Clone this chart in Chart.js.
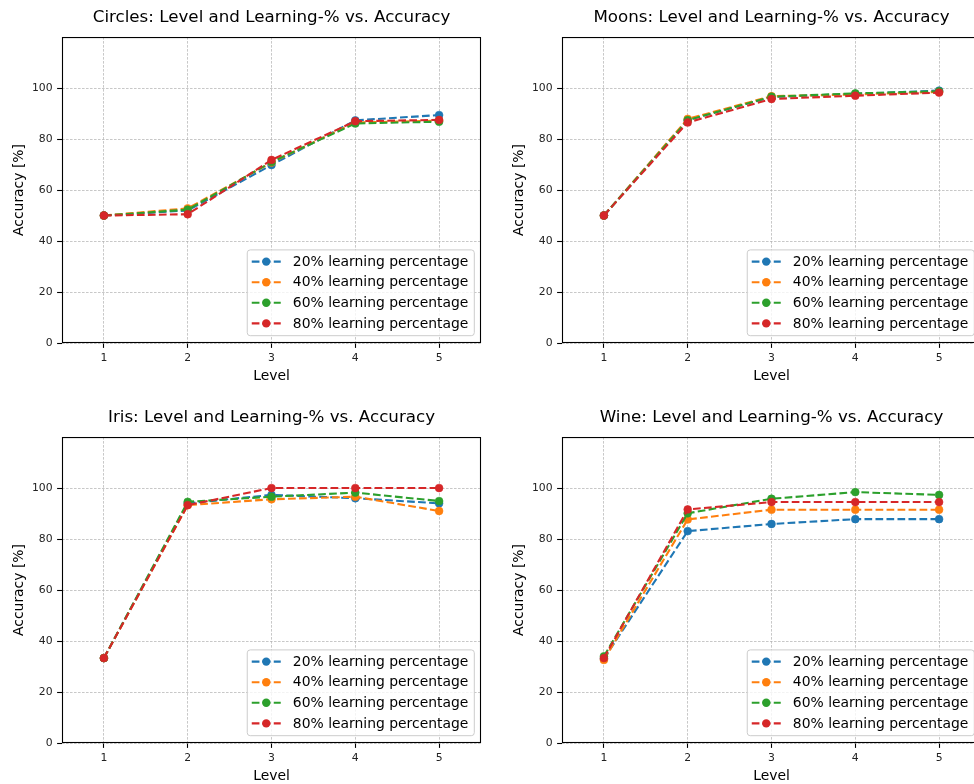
<!DOCTYPE html>
<html>
<head>
<meta charset="utf-8">
<title>Level and Learning-% vs. Accuracy</title>
<script src="https://cdn.jsdelivr.net/npm/chart.js@4.4.1/dist/chart.umd.min.js"></script>
<style>
    html, body { margin: 0; padding: 0; background: #fff; overflow: hidden; width: 974px; height: 784px; }
    canvas { position: absolute; }
</style>
</head>
<body>
<canvas id="circles" width="487" height="392" style="left:0;top:0"></canvas>
<canvas id="moons" width="487" height="392" style="left:500px;top:0"></canvas>
<canvas id="iris" width="487" height="392" style="left:0;top:400px"></canvas>
<canvas id="wine" width="487" height="392" style="left:500px;top:400px"></canvas>
<script>
// chart values
const levels = [1, 2, 3, 4, 5];
const yTicks = [0, 20, 40, 60, 80, 100];
const seriesLabels = ['20% learning percentage', '40% learning percentage', '60% learning percentage', '80% learning percentage'];
const seriesColors = ['#1f77b4', '#ff7f0e', '#2ca02c', '#d62728'];

const circles20 = [50, 52.0, 69.8, 87.3, 89.4];
const circles40 = [50, 52.8, 70.8, 86.5, 87.2];
const circles60 = [50, 52.3, 71.0, 86.1, 86.8];
const circles80 = [50, 50.5, 71.8, 87.0, 87.5];

const moons20 = [50, 87.5, 96.5, 97.7, 99.0];
const moons40 = [50, 87.9, 96.8, 97.5, 98.5];
const moons60 = [50, 87.4, 96.6, 97.9, 98.7];
const moons80 = [50, 86.5, 95.7, 97.0, 98.2];

const iris20 = [33.3, 94.0, 97.3, 96.0, 94.0];
const iris40 = [33.3, 93.3, 95.6, 96.6, 91.0];
const iris60 = [33.3, 94.6, 96.6, 98.2, 94.9];
const iris80 = [33.3, 93.3, 100, 100, 100];

const wine20 = [33.0, 83.1, 85.9, 87.8, 87.8];
const wine40 = [32.6, 87.7, 91.5, 91.5, 91.5];
const wine60 = [34.0, 90.1, 95.8, 98.4, 97.3];
const wine80 = [33.3, 91.6, 94.5, 94.5, 94.5];

const FONT = 'DejaVu Sans';
const LEGEND_SIZE = 13.9;

Chart.defaults.font.family = FONT;
Chart.defaults.color = '#000';

// frame around the plot area, like the matplotlib axes box
const framePlugin = {
    id: 'frame',
    afterDraw(chart) {
        const a = chart.chartArea;
        const ctx = chart.ctx;
        ctx.save();
        ctx.strokeStyle = '#000';
        ctx.lineWidth = 1.1;
        ctx.strokeRect(a.left + 0.5, a.top + 0.5, a.right - a.left - 1, a.bottom - a.top - 1);
        ctx.restore();
    }
};

// legend inside the plot, bottom right
const innerLegendPlugin = {
    id: 'innerLegend',
    afterDatasetsDraw(chart) {
        const a = chart.chartArea;
        const ctx = chart.ctx;
        const sets = chart.data.datasets;
        ctx.save();
        ctx.font = LEGEND_SIZE + 'px "' + FONT + '"';
        let textW = 0;
        sets.forEach(ds => { textW = Math.max(textW, ctx.measureText(ds.label).width); });
        const rowH = 20.6;
        const boxW = 45.6 + textW + 6;
        const boxH = 11.7 + rowH * (sets.length - 1) + 12.3;
        const x0 = a.right - 6.7 - boxW;
        const y0 = a.bottom - 7.3 - boxH;

        ctx.beginPath();
        ctx.roundRect(x0, y0, boxW, boxH, 3);
        ctx.fillStyle = 'rgba(255,255,255,0.8)';
        ctx.fill();
        ctx.strokeStyle = '#cccccc';
        ctx.lineWidth = 1;
        ctx.stroke();

        sets.forEach((ds, i) => {
            const cy = y0 + 11.7 + i * rowH;
            ctx.strokeStyle = ds.borderColor;
            ctx.lineWidth = 2.1;
            ctx.setLineDash([7.7, 3.3]);
            ctx.beginPath();
            ctx.moveTo(x0 + 4.5, cy);
            ctx.lineTo(x0 + 33.5, cy);
            ctx.stroke();
            ctx.setLineDash([]);
            ctx.fillStyle = ds.borderColor;
            ctx.beginPath();
            ctx.arc(x0 + 19, cy, 4.2, 0, Math.PI * 2);
            ctx.fill();
            ctx.fillStyle = '#000';
            ctx.textBaseline = 'middle';
            ctx.fillText(ds.label, x0 + 45.6, cy + 0.5);
        });
        ctx.restore();
    }
};

function makeDatasets(seriesList) {
    return seriesList.map((vals, i) => ({
        label: seriesLabels[i],
        data: levels.map((lv, j) => ({ x: lv, y: vals[j] })),
        borderColor: seriesColors[i],
        backgroundColor: seriesColors[i],
        borderWidth: 2.1,
        borderDash: [7.7, 3.3],
        pointRadius: 3.9,
        pointBorderWidth: 0.6,
        pointBackgroundColor: seriesColors[i],
        pointBorderColor: seriesColors[i],
        tension: 0,
        fill: false,
        order: seriesList.length - i
    }));
}

function gridOpts() {
    return {
        color: '#b0b0b0',
        lineWidth: 0.7,
        drawTicks: true,
        tickLength: 4.9,
        tickColor: '#000',
        tickWidth: 1.1,
        tickBorderDash: []
    };
}

function drawPanel(canvasId, title, seriesList) {
    const ctx = document.getElementById(canvasId).getContext('2d');
    return new Chart(ctx, {
        type: 'line',
        data: { datasets: makeDatasets(seriesList) },
        plugins: [framePlugin, innerLegendPlugin],
        options: {
            responsive: false,
            animation: false,
            devicePixelRatio: 1,
            layout: { padding: { left: 0, right: 6, top: 0, bottom: 0 } },
            plugins: {
                legend: { display: false },
                tooltip: { enabled: false },
                title: {
                    display: true,
                    text: title,
                    fullSize: false,
                    color: '#000',
                    font: { family: FONT, size: 16.7, weight: 'normal', lineHeight: 1.2 },
                    padding: { top: 8, bottom: 9 }
                }
            },
            scales: {
                x: {
                    type: 'linear',
                    min: 0.5,
                    max: 5.5,
                    afterBuildTicks: scale => { scale.ticks = levels.map(v => ({ value: v })); },
                    afterFit: scale => { scale.height = 49; },
                    grid: gridOpts(),
                    border: { display: false, dash: [2.6, 1.4] },
                    ticks: { color: '#222', font: { size: 10.8 }, padding: 4, maxRotation: 0 },
                    title: {
                        display: true,
                        text: 'Level',
                        color: '#000',
                        font: { size: 13.9, lineHeight: 1.2 },
                        padding: { top: 0, bottom: 7.7 }
                    }
                },
                y: {
                    min: 0,
                    max: 120,
                    afterBuildTicks: scale => { scale.ticks = yTicks.map(v => ({ value: v })); },
                    afterFit: scale => { scale.width = 62; },
                    grid: gridOpts(),
                    border: { display: false, dash: [2.6, 1.4] },
                    ticks: { color: '#222', font: { size: 10.8 }, padding: 4.5 },
                    title: {
                        display: true,
                        text: 'Accuracy [%]',
                        color: '#000',
                        font: { size: 13.9, lineHeight: 1.2 },
                        padding: { top: 10.7, bottom: 0 }
                    }
                }
            }
        }
    });
}

drawPanel('circles', 'Circles: Level and Learning-% vs. Accuracy', [circles20, circles40, circles60, circles80]);
drawPanel('moons', 'Moons: Level and Learning-% vs. Accuracy', [moons20, moons40, moons60, moons80]);
drawPanel('iris', 'Iris: Level and Learning-% vs. Accuracy', [iris20, iris40, iris60, iris80]);
drawPanel('wine', 'Wine: Level and Learning-% vs. Accuracy', [wine20, wine40, wine60, wine80]);
</script>
</body>
</html>
